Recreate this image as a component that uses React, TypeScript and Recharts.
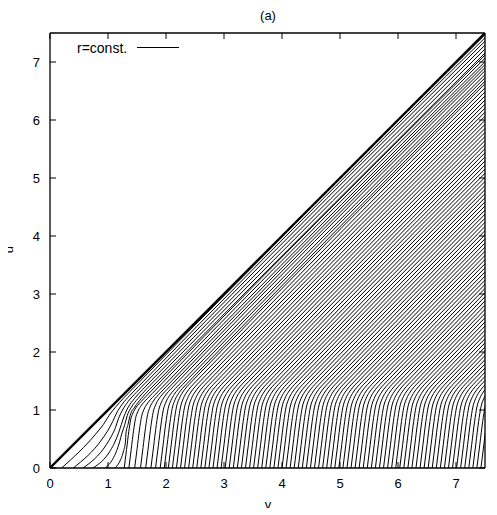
import React from 'react';
import { ComposedChart, Line, XAxis, YAxis, Legend } from 'recharts';

// Axis ticks (v and u)
const TICKS = [0, 1, 2, 3, 4, 5, 6, 7];

// Thick diagonal boundary u = v
const DIAGONAL = [
  [0, 0],
  [7.5, 7.5],
];

// Lower-left corner contours (v, u)
const CORNER_1 = [[0.2, 0], [0.8, 0.6], [0.92, 0.75], [1.015, 0.9], [1.13, 1.05], [1.264, 1.2], [1.41, 1.35], [10, 9.94]];
const CORNER_2 = [[0.4, 0], [0.9, 0.5], [1.0, 0.65], [1.08, 0.8], [1.15, 0.95], [1.245, 1.1], [1.375, 1.25], [1.52, 1.4], [10, 9.88]];
const CORNER_3 = [[0.57, 0], [0.97, 0.4], [1.06, 0.55], [1.13, 0.7], [1.18, 0.85], [1.25, 1.0], [1.35, 1.15], [1.485, 1.3], [1.63, 1.45], [10, 9.82]];
const CORNER_4 = [[0.74, 0], [1.04, 0.3], [1.12, 0.45], [1.18, 0.6], [1.23, 0.75], [1.28, 0.9], [1.35, 1.05], [1.458, 1.2], [1.594, 1.35], [1.74, 1.5], [10, 9.76]];
const CORNER_5 = [[0.95, 0], [1.08, 0.15], [1.15, 0.3], [1.2, 0.45], [1.24, 0.6], [1.29, 0.75], [1.33, 0.9], [1.405, 1.05], [1.518, 1.2], [1.653, 1.35], [1.8, 1.5], [10, 9.7]];
const CORNER_6 = [[1.12, 0], [1.22, 0.15], [1.27, 0.3], [1.3, 0.45], [1.31, 0.6], [1.345, 0.75], [1.38, 0.9], [1.46, 1.05], [1.575, 1.2], [1.712, 1.35], [1.86, 1.5], [10, 9.64]];
const CORNER_LINES = [CORNER_1, CORNER_2, CORNER_3, CORNER_4, CORNER_5, CORNER_6];

// Start positions (v at u = 0) of the main family of r = const. contours
const MAIN_STARTS = [
  1.28, 1.36, 1.46, 1.56, 1.65, 1.74, 1.82, 1.9, 1.97, 2.04,
  2.11, 2.18, 2.25, 2.32, 2.39, 2.46, 2.53, 2.6, 2.67, 2.74,
  2.81, 2.88, 2.95, 3.02, 3.09, 3.16, 3.23, 3.3, 3.37, 3.44,
  3.51, 3.58, 3.65, 3.72, 3.79, 3.86, 3.93, 4.0, 4.07, 4.14,
  4.21, 4.28, 4.35, 4.42, 4.49, 4.56, 4.63, 4.7, 4.77, 4.84,
  4.91, 4.98, 5.05, 5.12, 5.19, 5.26, 5.33, 5.4, 5.47, 5.54,
  5.61, 5.68, 5.75, 5.82, 5.89, 5.96, 6.03, 6.1, 6.17, 6.24,
  6.31, 6.38, 6.45, 6.52, 6.59, 6.66, 6.73, 6.8, 6.87, 6.94,
  7.01, 7.08, 7.15, 7.22, 7.29, 7.36, 7.43,
];

// Relative height of the bend for the first main contours (the "shoulder" near v = 1.3-2)
const KNEE_SCALE = [0.79, 0.81, 0.84, 0.88, 0.91, 0.94, 0.95, 0.97, 0.98];

// Shape of one main contour: (offset in v from its start, u)
const KNEE_SHAPE = [
  [0, 0], [0.05, 0.4], [0.1, 0.8], [0.14, 1.05], [0.19, 1.2], [0.25, 1.31],
  [0.32, 1.4], [0.4, 1.485], [0.5, 1.589], [10.5, 11.59],
];

const toPoints = (pts: number[][]) => pts.map(([v, u]) => ({ v, u }));
const mainLine = (v0: number, s: number) => KNEE_SHAPE.map(([dv, u]) => ({ v: v0 + dv * s, u: u * s }));

const FONT = '"Liberation Sans", Arial, Helvetica, sans-serif';
const emptyTick = () => <g />;

const LegendContent = () => (
  <div style={{ position: 'relative', width: 110, height: 16, fontFamily: FONT, fontSize: 14, lineHeight: '16px', color: '#000' }}>
    <span style={{ position: 'absolute', left: 0, top: 0, whiteSpace: 'nowrap' }}>r=const.</span>
    <svg style={{ position: 'absolute', left: 60, top: 0 }} width={44} height={16}>
      <line x1={0} y1={7.5} x2={42} y2={7.5} stroke="#000" strokeWidth={1} />
    </svg>
  </div>
);

export default function App() {
  const axisLine = { stroke: '#000', strokeWidth: 1.3 };
  const tickLine = { stroke: '#000', strokeWidth: 1 };
  const tickText = { fill: '#000', fontSize: 13, fontFamily: FONT };
  return (
    <div style={{ position: 'relative', width: 489, height: 500, fontFamily: FONT, background: '#fff' }}>
      <ComposedChart width={489} height={500} margin={{ top: 24, right: 11, bottom: 10, left: 12 }}>
        {MAIN_STARTS.map((v0, i) => (
          <Line
            key={'m' + i}
            data={mainLine(v0, KNEE_SCALE[i] ?? 1)}
            dataKey="u"
            type="monotone"
            stroke="#000"
            strokeWidth={1}
            dot={false}
            activeDot={false}
            isAnimationActive={false}
            legendType="none"
          />
        ))}
        {CORNER_LINES.map((pts, i) => (
          <Line
            key={'c' + i}
            data={toPoints(pts)}
            dataKey="u"
            type="monotone"
            stroke="#000"
            strokeWidth={1}
            dot={false}
            activeDot={false}
            isAnimationActive={false}
            legendType="none"
          />
        ))}
        <Line
          data={toPoints(DIAGONAL)}
          dataKey="u"
          type="linear"
          stroke="#000"
          strokeWidth={2.3}
          dot={false}
          activeDot={false}
          isAnimationActive={false}
          name="r=const."
        />
        <XAxis
          type="number"
          dataKey="v"
          domain={[0, 7.5]}
          ticks={TICKS}
          allowDataOverflow
          orientation="bottom"
          height={30}
          tickSize={-6}
          tickMargin={17}
          axisLine={axisLine}
          tickLine={tickLine}
          tick={tickText}
        />
        <XAxis
          xAxisId="top"
          type="number"
          dataKey="v"
          domain={[0, 7.5]}
          ticks={TICKS}
          allowDataOverflow
          orientation="top"
          height={1}
          tickSize={-6}
          axisLine={axisLine}
          tickLine={tickLine}
          tick={emptyTick}
        />
        <YAxis
          type="number"
          domain={[0, 7.5]}
          ticks={TICKS}
          allowDataOverflow
          orientation="left"
          width={30}
          tickSize={-6}
          tickMargin={16}
          axisLine={axisLine}
          tickLine={tickLine}
          tick={tickText}
        />
        <YAxis
          yAxisId="right"
          type="number"
          domain={[0, 7.5]}
          ticks={TICKS}
          allowDataOverflow
          orientation="right"
          width={1}
          tickSize={-6}
          axisLine={axisLine}
          tickLine={tickLine}
          tick={emptyTick}
        />
        <Legend
          layout="horizontal"
          verticalAlign="middle"
          align="center"
          wrapperStyle={{ top: 32, left: 69, width: 110, height: 16 }}
          content={LegendContent}
        />
      </ComposedChart>
      <div style={{ position: 'absolute', left: 240, width: 40, top: 0, textAlign: 'center', fontSize: 13, lineHeight: '15px' }}>(a)</div>
      <div style={{ position: 'absolute', left: 240, width: 40, top: 489, textAlign: 'center', fontSize: 13, lineHeight: '15px' }}>v</div>
      <div style={{ position: 'absolute', left: -10, top: 234, width: 20, textAlign: 'center', fontSize: 13, lineHeight: '15px', transform: 'rotate(-90deg)' }}>u</div>
    </div>
  );
}
